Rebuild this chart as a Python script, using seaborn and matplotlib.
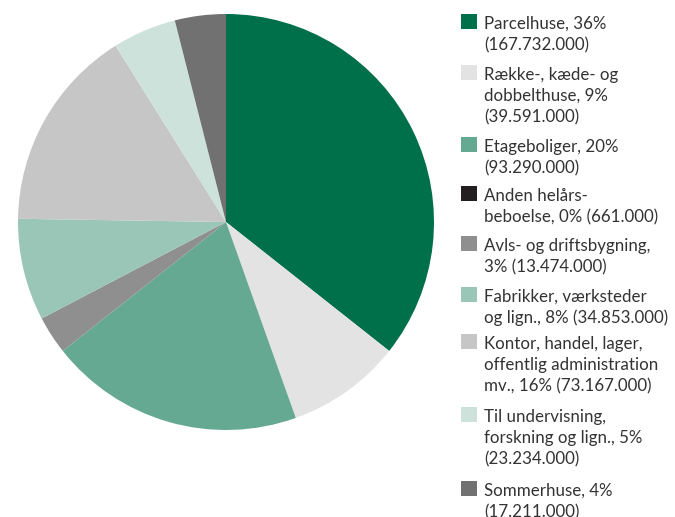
import matplotlib
matplotlib.use("Agg")
import matplotlib.pyplot as plt
from matplotlib.patches import Rectangle
import seaborn as sns

# Building floor area by use: share (%) and area (m²)
categories = [
    "Parcelhuse",
    "Række-, kæde- og dobbelthuse",
    "Etageboliger",
    "Anden helårsbeboelse",
    "Avls- og driftsbygning",
    "Fabrikker, værksteder og lign.",
    "Kontor, handel, lager, offentlig administration mv.",
    "Til undervisning, forskning og lign.",
    "Sommerhuse",
]
shares = [36, 9, 20, 0, 3, 8, 16, 5, 4]
areas = [167732000, 39591000, 93290000, 661000, 13474000,
         34853000, 73167000, 23234000, 17211000]
colors = ["#00704A", "#E3E3E3", "#66A993", "#231F20", "#8F8F8F",
          "#99C6B7", "#C6C6C6", "#CCE2DB", "#717171"]

# Legend text templates, wrapped line by line
label_templates = [
    "Parcelhuse, {p}%\n({a})",
    "Række-, kæde- og\ndobbelthuse, {p}%\n({a})",
    "Etageboliger, {p}%\n({a})",
    "Anden helårs-\nbeboelse, {p}% ({a})",
    "Avls- og driftsbygning,\n{p}% ({a})",
    "Fabrikker, værksteder\nog lign., {p}% ({a})",
    "Kontor, handel, lager,\noffentlig administration\nmv., {p}% ({a})",
    "Til undervisning,\nforskning og lign., {p}%\n({a})",
    "Sommerhuse, {p}%\n({a})",
]


def fmt_area(v):
    return f"{v:,}".replace(",", ".")


labels = [t.format(p=p, a=fmt_area(a))
          for t, p, a in zip(label_templates, shares, areas)]

sns.set_style("white")
plt.rcParams["font.family"] = ["Lato", "DejaVu Sans"]

W, H = 675, 517
fig = plt.figure(figsize=(W / 100, H / 100), dpi=100)

# Pie: centre (226, 222) px, radius 208 px
cx, cy, r = 226, 222, 208
ax = fig.add_axes([(cx - r) / W, (H - cy - r) / H, 2 * r / W, 2 * r / H])
ax.pie(shares, colors=colors, startangle=90, counterclock=False,
       wedgeprops=dict(linewidth=0))
ax.set_xlim(-1, 1)
ax.set_ylim(-1, 1)
ax.set_aspect("equal")
ax.axis("off")

# Legend: first-line baseline of each entry (px from top)
baselines = [29, 80, 152, 201, 251, 302, 349, 422, 496]
line_step = 21
sq_x, sq_size, text_x = 461, 15.5, 484
text_color = "#333333"
for label, col, base in zip(labels, colors, baselines):
    fig.add_artist(Rectangle((sq_x / W, (H - base) / H), sq_size / W, sq_size / H,
                             transform=fig.transFigure, facecolor=col,
                             edgecolor="none"))
    for i, line in enumerate(label.split("\n")):
        fig.text(text_x / W, (H - base - i * line_step) / H, line,
                 fontsize=12.2, color=text_color, ha="left", va="baseline")

fig.savefig("out.png", dpi=100)
